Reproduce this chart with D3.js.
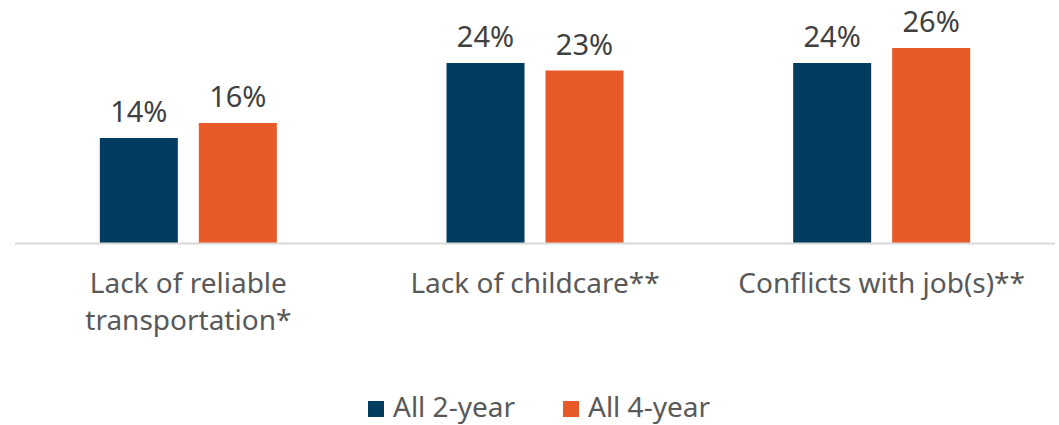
<!DOCTYPE html>
<html>
<head>
<meta charset="utf-8">
<script src="https://cdn.jsdelivr.net/npm/d3@7"></script>
<style>
  body { margin: 0; background: #fff; }
  text { font-family: "Noto Sans", sans-serif; }
</style>
</head>
<body>
<script>
// chart data
var categories = ["Lack of reliable\ntransportation*", "Lack of childcare**", "Conflicts with job(s)**"];
var seriesNames = ["All 2-year", "All 4-year"];
var twoYear = [14, 24, 24];
var fourYear = [16, 23, 26];
var colors = ["#023d5f", "#e85a27"];

function drawChart() {
    var width = 1059;
    var height = 425;
    var baseline = 243;
    var groupWidth = 177;

    var svg = d3.select("body")
                .append("svg")
                .attr("width", width)
                .attr("height", height);

    var x0 = d3.scaleBand()
                .domain(categories)
                .range([15, 1055]);

    var x1 = d3.scaleBand()
                .domain(seriesNames)
                .range([0, groupWidth])
                .paddingInner(0.212);

    var y = d3.scaleLinear()
                .domain([0, 26])
                .range([baseline, baseline - 195]);

    var rows = categories.map(function(c, i) {
        return { cat: c, values: [twoYear[i], fourYear[i]] };
    });

    var groups = svg.selectAll("g.group")
                    .data(rows)
                    .enter()
                    .append("g")
                    .attr("class", "group")
                    .attr("transform", function(d) {
                        return "translate(" + (x0(d.cat) + (x0.bandwidth() - groupWidth) / 2) + ",0)";
                    });

    groups.selectAll("rect")
        .data(function(d) { return d.values; })
        .enter()
        .append("rect")
        .attr("x", function(d, i) { return x1(seriesNames[i]); })
        .attr("y", function(d) { return y(d); })
        .attr("width", x1.bandwidth())
        .attr("height", function(d) { return baseline - y(d); })
        .attr("fill", function(d, i) { return colors[i]; });

    groups.selectAll("text.value")
        .data(function(d) { return d.values; })
        .enter()
        .append("text")
        .attr("class", "value")
        .attr("x", function(d, i) { return x1(seriesNames[i]) + x1.bandwidth() / 2; })
        .attr("y", function(d) { return y(d) - 16; })
        .attr("text-anchor", "middle")
        .style("font-size", "29px")
        .style("fill", "#404040")
        .text(function(d) { return d + "%"; });

    // axis line
    svg.append("line")
        .attr("x1", 15)
        .attr("x2", 1055)
        .attr("y1", baseline + 0.5)
        .attr("y2", baseline + 0.5)
        .attr("stroke", "#d9d9d9")
        .attr("stroke-width", 2);

    // category labels
    var catText = svg.selectAll("text.cat")
                    .data(categories)
                    .enter()
                    .append("text")
                    .attr("class", "cat")
                    .attr("text-anchor", "middle")
                    .style("font-size", "28px")
                    .style("fill", "#595959");

    catText.selectAll("tspan")
        .data(function(d) {
            var c = x0(d) + x0.bandwidth() / 2;
            return d.split("\n").map(function(s) { return { s: s, c: c }; });
        })
        .enter()
        .append("tspan")
        .attr("x", function(d) { return d.c; })
        .attr("y", function(d, i) { return 293 + i * 37; })
        .text(function(d) { return d.s; });

    // legend
    var legendX = [368, 563];
    var legend = svg.selectAll("g.legend")
                    .data(seriesNames)
                    .enter()
                    .append("g")
                    .attr("class", "legend")
                    .attr("transform", function(d, i) { return "translate(" + legendX[i] + ",401)"; });

    legend.append("rect")
        .attr("width", 16)
        .attr("height", 16)
        .attr("fill", function(d, i) { return colors[i]; });

    legend.append("text")
        .attr("x", 25)
        .attr("y", 16)
        .style("font-size", "28px")
        .style("fill", "#595959")
        .text(function(d) { return d; });
}

window.onload = function() {
    drawChart();
};
</script>
</body>
</html>
